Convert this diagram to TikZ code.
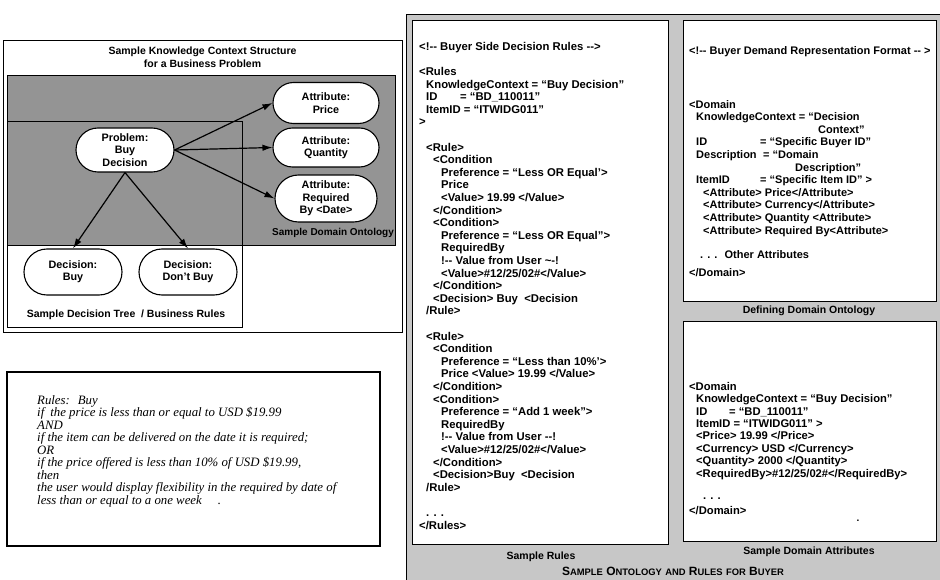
\documentclass[tikz,border=0pt]{standalone}
\usepackage{fontspec}
\setmainfont{Liberation Sans}
\newfontfamily\rulesfont{Liberation Serif}
\usetikzlibrary{arrows.meta,shapes.misc,positioning}

\newcommand{\ind}[1]{\hspace*{#1pt}}
\newcommand{\capsword}[2]{#1{\fontsize{9.4}{10}\selectfont #2}}

\begin{document}
\begin{tikzpicture}[x = 1pt, y = -1pt, >={Latex[length=10pt,width=6.5pt]},
  concept/.style = {draw, fill = white, rounded rectangle, line width = 1.1pt, align = center,
    font = \bfseries\fontsize{10.8}{12.4}\selectfont, minimum width = 100pt, minimum height = 44pt, inner sep = 1pt},
  caption/.style = {inner sep = 0pt, font = \bfseries\fontsize{10.5}{12.5}\selectfont},
  code/.style = {anchor = north west, align = left, inner sep = 0pt, font = \bfseries\fontsize{11.3}{12.6}\selectfont},
  panel/.style = {draw, fill = white, line width = 0.9pt}]
\useasboundingbox (0,0) rectangle (940,580);

% knowledge context structure
\draw[line width = 0.9pt] (3,40) rectangle (402,332);
\node[caption, align = center] (title) at (202.5,57) {Sample Knowledge Context Structure\\for a Business Problem};
\draw[fill = black!42, line width = 0.6pt] (7,75) rectangle (395,245);
\draw[line width = 0.8pt] (7,121) rectangle (242,327);
\node[concept] (problem) at (125,150) {Problem:\\Buy\\Decision};
\node[concept, minimum width = 108pt, minimum height = 41pt] (price) at (326,103) {Attribute:\\Price};
\node[concept, minimum width = 108pt, minimum height = 39pt] (quantity) at (326,147.5) {Attribute:\\Quantity};
\node[concept, minimum width = 104pt, minimum height = 47pt] (required) at (326,198.5) {Attribute:\\Required\\By <Date>};
\node[concept, minimum height = 46pt] (buy) at (73,272) {Decision:\\Buy};
\node[concept, minimum height = 46pt] (dontbuy) at (188,272) {Decision:\\Don’t Buy};
\draw[->, line width = 1.2pt] (problem.east) -- (price.west);
\draw[->, line width = 1.2pt] (problem.east) -- (quantity.west);
\draw[->, line width = 1.2pt] (problem.east) -- (required.west);
\draw[->, line width = 1.2pt] (problem.south) -- (buy.north);
\draw[->, line width = 1.2pt] (problem.south) -- (dontbuy.north);
\node[caption, font = \bfseries\fontsize{10}{12}\selectfont] (ontologylabel) at (333,233) {Sample Domain Ontology};
\node[caption] (treelabel) at (126,315) {Sample Decision Tree \ / Business Rules};

% business rules in words
\draw[line width = 1.6pt] (7,372) rectangle (380,546);
\node[anchor = north west, align = left, inner sep = 0pt, font = \rulesfont\itshape\fontsize{12.8}{12.5}\selectfont] (wordrules) at (37,395) {%
Rules:\ind{8}Buy\\
if\ind{6}the price is less than or equal to USD \$19.99\\
AND\\
if the item can be delivered on the date it is required;\\
OR\\
if the price offered is less than 10\% of USD \$19.99,\\
then\\
the user would display flexibility in the required by date of\\
less than or equal to a one week\ind{16}.};

% ontology and rules for buyer
\draw[fill = black!22, line width = 0.6pt] (406,14) rectangle (940,580);
\draw[panel, line width = 0.7pt] (412,20) rectangle (668,544);
\draw[panel] (683,20) rectangle (936,301);
\draw[panel] (683,321) rectangle (936,541);

\node[code] (rulescode) at (419,42) {%
<!-{}- Buyer Side Decision Rules -{}->\\
\mbox{}\\
<Rules\\
\ind{7}KnowledgeContext = “Buy Decision”\\
\ind{7}\makebox[34pt][l]{ID}= “BD\_110011”\\
\ind{7}ItemID = “ITWIDG011”\\
>\\
\mbox{}\\
\ind{7}<Rule>\\
\ind{14}<Condition\\
\ind{22}Preference = “Less OR Equal’>\\
\ind{22}Price\\
\ind{22}<Value> 19.99 </Value>\\
\ind{14}</Condition>\\
\ind{14}<Condition>\\
\ind{22}Preference = “Less OR Equal”>\\
\ind{22}RequiredBy\\
\ind{22}!-{}- Value from User \textasciitilde-!\\
\ind{22}<Value>\#12/25/02\#</Value>\\
\ind{14}</Condition>\\
\ind{14}<Decision> Buy \ <Decision\\
\ind{7}/Rule>\\
\mbox{}\\
\ind{7}<Rule>\\
\ind{14}<Condition\\
\ind{22}Preference = “Less than 10\%’>\\
\ind{22}Price <Value> 19.99 </Value>\\
\ind{14}</Condition>\\
\ind{14}<Condition>\\
\ind{22}Preference = “Add 1 week”>\\
\ind{22}RequiredBy\\
\ind{22}!-{}- Value from User -{}-!\\
\ind{22}<Value>\#12/25/02\#</Value>\\
\ind{14}</Condition>\\
\ind{14}<Decision>Buy \ <Decision\\
\ind{7}/Rule>\\
\mbox{}\\
\ind{7}. . .\\
</Rules>};

\node[code, font = \bfseries\fontsize{11}{12.6}\selectfont] (formatcode) at (689,46) {%
<!-{}- Buyer Demand Representation Format -{}- >\\[41.4pt]
<Domain\\
\ind{7}KnowledgeContext = “Decision\\
\ind{129}Context”\\
\ind{7}\makebox[64pt][l]{ID}= “Specific Buyer ID”\\
\ind{7}\makebox[67pt][l]{Description}= “Domain\\
\ind{106}Description”\\
\ind{7}\makebox[64pt][l]{ItemID}= “Specific Item ID” >\\
\ind{14}<Attribute> Price</Attribute>\\
\ind{14}<Attribute> Currency</Attribute>\\
\ind{14}<Attribute> Quantity <Attribute>\\
\ind{14}<Attribute> Required By<Attribute>\\[11.4pt]
\ind{11}. . . \ Other Attributes\\[5.4pt]
</Domain>};

\node[code, font = \bfseries\fontsize{11.2}{12.4}\selectfont] (attrcode) at (689,382) {%
<Domain\\
\ind{7}KnowledgeContext = “Buy Decision”\\
\ind{7}\makebox[33pt][l]{ID}= “BD\_110011”\\
\ind{7}ItemID = “ITWIDG011” >\\
\ind{7}<Price> 19.99 </Price>\\
\ind{7}<Currency> USD </Currency>\\
\ind{7}<Quantity> 2000 </Quantity>\\
\ind{7}<RequiredBy>\#12/25/02\#</RequiredBy>\\[9.6pt]
\ind{14}. . .\\[2.6pt]
</Domain>};
\node[inner sep = 0pt, font = \bfseries] (speck) at (858,521) {.};

\node[caption] (defininglabel) at (809,311) {Defining Domain Ontology};
\node[caption] (attrlabel) at (809,552) {Sample Domain Attributes};
\node[caption] (ruleslabel) at (541,557) {Sample Rules};
\node[caption, font = \bfseries\fontsize{12}{12}\selectfont] (paneltitle) at (673,571)
  {\capsword{S}{AMPLE} \capsword{O}{NTOLOGY} {\fontsize{9.4}{10}\selectfont AND} \capsword{R}{ULES} {\fontsize{9.4}{10}\selectfont FOR} \capsword{B}{UYER}};
\end{tikzpicture}
\end{document}
